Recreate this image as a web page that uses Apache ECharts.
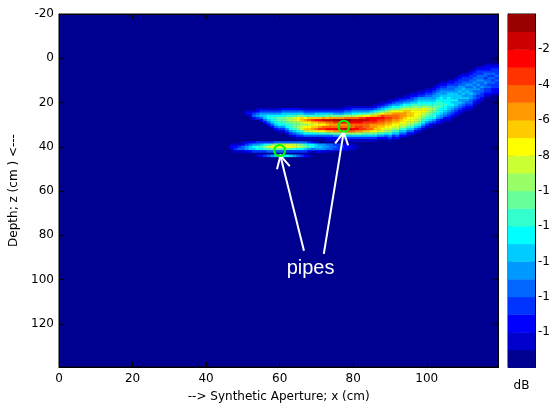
<!DOCTYPE html>
<html><head><meta charset="utf-8">
<script src="https://cdn.jsdelivr.net/npm/echarts@6/dist/echarts.min.js"></script>
<style>html,body{margin:0;padding:0;background:#fff;}#c{width:550px;height:406px;}</style>
</head><body><div id="c"></div>
<script>
// ---- data ----
const dbMin = -20, dbMax = 0;
const bandColors = ['#000090','#0000CC','#0000FF','#0033FF','#0066FF','#0099FF','#00CCFF','#00FFFF','#33FFCC','#66FF99',
                    '#99FF66','#CCFF33','#FFFF00','#FFCC00','#FF9900','#FF6600','#FF3300','#FF0000','#CC0000','#990000'];
const xTicks = [0,20,40,60,80,100];
const yTicks = [-20,0,20,40,60,80,100,120];
const cbTicks = [-18,-16,-14,-12,-10,-8,-6,-4,-2];
const cellW = 1, cellH = 1; // cm per image cell (x, z)
// Each column: centre x, first depth z, one level char per 1 cm downward ('1'..'9','a'..'j' = dB band index)
const mainX = [51,52,53,54,55,56,57,58,59,60,61,62,63,64,65,66,67,68,69,70,71,72,73,74,75,76,77,78,79,80,81,82,83,84,85,
               86,87,88,89,90,91,92,93,94,95,96,97,98,99,100,101,102,103,104,105,106,107,108,109,110,111,112,113,114,115,116,117,118,119];
const mainZ = [24,24,24,23,23,23,23,23,23,23,23,23,23,23,23,23,23,23,23,23,23,23,23,23,23,23,23,22,22,22,22,22,22,22,22,
               21,21,20,20,19,19,18,18,17,17,16,16,15,15,14,14,13,12,11,11,10,10,9,8,7,7,6,5,4,4,3,3,3,3];
const mainLevels = [
  "12","121","1342","12453","135642","1356642","13577642","135787642","1357887642","13579987531",
  "24679987531","2468aa987531","2468ab9887531","2468bba998642","2469cca9a97531","1469ddbabb8631",
  "1358cecacda741","1358dfcbcdb741","1358dgdbdeb741","1368dhdcdfc741","1368dhecegc841","1368eiecfgc841",
  "1369difdfhd8421","1369eifefhd9421","1359ejgefhe9521","1359ejgefie9521","1359ejhefifa631",
  "1246afjhefifa631","1246afjhffifa631","1357afihffhfa631","1357bfihfghea631","1358bgihfggea631",
  "1358cgigffgd9631","1358chigfffd9631","1369dhhgeefc9631",
  "1247adhhgeedc9631","1358behgfeddb852","12469cghgfedcb852","1357adfgfedcba742","12468bdfgfedcba8531",
  "13579ceffedcba8631","124579ceffedcba8642","13468aceeedcba8642","123579bdeedccba8642","124579bdddccba8642",
  "1234689bcddccba8642","124568abcccbba8642","12356789bccbba97531","1235678accba987531","12345678abba987531",
  "123456789ba9876421","1234556789a9887531","123455678898876532","1234556778887765421","123455667787765421",
  "1234456677776654321","12344566676765432","123345566676654321","123345565665654321","123344565656554321",
  "12334545655654321","123344545565544321","12334454554544321","12334454545443321","1233445445443321",
  "122344345443321","122343444343321","12334343433221","12333434333221"
];
const lowerX = [47,48,49,50,51,52,53,54,55,56,57,58,59,60,61,62,63,64,65,66,67,68,69,70,71,72,73,74,75,76,77,78,79,80,81];
const lowerZ = [39,39,39,38,38,38,38,38,38,38,38,38,38,38,38,38,38,38,38,38,38,38,38,38,39,39,39,39,39,39,39,39,39,39,40];
const lowerLevels = ["121","1231","1341","12441","13552","24662","25763","35873","36873","37a83","38b84","39c94","4ac94",
  "4bc94","4bc94","4bc93","4bc83","4bb83","4ab73","49a73","48963","37852","2774","16652","5652","5551","4541","4441",
  "343","333","232","222","121","111","1"];
const streakX = [54,55,56,57,58,59,60,61,62,63,64,65,66,67,68];
const streakZ = [44,44,44,44,44,44,44,44,44,44,44,44,44,44,44];
const streakLevels = ["1","2","3","4","5","6","7","7","7","6","5","4","3","2","1"];

const circleX = [60.0, 77.45];
const circleZ = [41.7, 30.7];
const arrowTailX = [66.6, 72.0];
const arrowTailZ = [87.0, 88.4];
const arrowTipX = [60.2, 77.4];
const arrowTipZ = [44.0, 33.4];
const noteText = ['pipes'];
const noteX = [68.4];
const noteZ = [95.0];

// ---- build ----
const heatData = [];
function addColumns(xs, zs, levels) {
  xs.forEach((x, s) => {
    const str = levels[s];
    for (let i = 0; i < str.length; i++) {
      const lv = parseInt(str[i], 20);
      if (isNaN(lv)) continue;
      heatData.push([x, zs[s] + i, dbMin + lv + 0.5]);
    }
  });
}
addColumns(mainX, mainZ, mainLevels);
addColumns(lowerX, lowerZ, lowerLevels);
addColumns(streakX, streakZ, streakLevels);
const cbData = bandColors.map((c, k) => [0, dbMin + k, dbMin + k + 1, k]);

const FONT = 'DejaVu Sans';
const txt = {color:'#000', fontFamily:FONT, fontSize:12};

function renderCell(params, api) {
  const x = api.value(0), z = api.value(1);
  const p0 = api.coord([x - cellW/2, z - cellH/2]);
  const p1 = api.coord([x + cellW/2, z + cellH/2]);
  return {type:'rect', shape:{x:Math.min(p0[0],p1[0]), y:Math.min(p0[1],p1[1]),
    width:Math.abs(p1[0]-p0[0])+0.4, height:Math.abs(p1[1]-p0[1])+0.4},
    style:{fill: api.visual('color')}};
}
function renderBand(params, api) {
  const p0 = api.coord([0, api.value(1)]);
  const p1 = api.coord([1, api.value(2)]);
  return {type:'rect', shape:{x:Math.min(p0[0],p1[0]), y:Math.min(p0[1],p1[1]),
    width:Math.abs(p1[0]-p0[0]), height:Math.abs(p1[1]-p0[1])+0.4},
    style:{fill: bandColors[api.value(3)]}};
}
function renderCircle(params, api) {
  const p = api.coord([api.value(0), api.value(1)]);
  return {type:'circle', shape:{cx:p[0], cy:p[1], r:5.5}, style:{fill:null, stroke:'#00FF00', lineWidth:2}};
}
function renderArrow(params, api) {
  const t = api.coord([api.value(0), api.value(1)]);
  const h = api.coord([api.value(2), api.value(3)]);
  const ang = Math.atan2(t[1]-h[1], t[0]-h[0]);
  const L = 14, a = 28*Math.PI/180;
  const b1 = [h[0]+L*Math.cos(ang+a), h[1]+L*Math.sin(ang+a)];
  const b2 = [h[0]+L*Math.cos(ang-a), h[1]+L*Math.sin(ang-a)];
  return {type:'group', children:[
    {type:'line', shape:{x1:t[0], y1:t[1], x2:h[0], y2:h[1]}, style:{stroke:'#fff', lineWidth:2}},
    {type:'polyline', shape:{points:[b1, h, b2]}, style:{stroke:'#fff', lineWidth:2, fill:null}}
  ]};
}
function renderNote(params, api) {
  const p = api.coord([api.value(0), api.value(1)]);
  return {type:'text', x:p[0], y:p[1], style:{text: noteText[params.dataIndex], fill:'#fff',
    fontFamily:'Liberation Sans', fontSize:20, align:'center', verticalAlign:'middle'}};
}

const tickFmt = list => v => (list.indexOf(v) >= 0 ? String(v) : '');
const plainAxis = {axisLine:{show:true, onZero:false, lineStyle:{color:'#000', width:1}},
  axisTick:{show:true, inside:true, length:5, lineStyle:{color:'#000'}}, splitLine:{show:false}};

const option = {
  animation:false,
  backgroundColor:'#fff',
  grid:[
    {left:59, top:14, width:439.5, height:353, show:true, backgroundColor:bandColors[0], borderColor:'#000', borderWidth:1,
      outerBoundsMode:'none', containLabel:false},
    {left:508, top:14, width:27, height:353.5, show:true, backgroundColor:'transparent', borderColor:'#000', borderWidth:1,
      outerBoundsMode:'none', containLabel:false}
  ],
  visualMap:{type:'piecewise', show:false, seriesIndex:0, dimension:2,
    pieces: bandColors.map((c,k) => ({gte: dbMin+k, lt: dbMin+k+1, color:c}))},
  xAxis:[
    Object.assign({gridIndex:0, type:'value', min:0, max:119.5, interval:20, position:'bottom',
      axisLabel:Object.assign({margin:6, showMaxLabel:false, formatter:tickFmt(xTicks)}, txt),
      name:'--> Synthetic Aperture; x (cm)', nameLocation:'middle', nameGap:24, nameTextStyle:txt}, plainAxis),
    Object.assign({gridIndex:0, type:'value', min:0, max:119.5, interval:20, position:'top', axisLabel:{show:false}}, plainAxis),
    {gridIndex:1, type:'value', min:0, max:1, axisLine:{show:false}, axisTick:{show:false}, axisLabel:{show:false},
      splitLine:{show:false}, name:'dB', nameLocation:'middle', nameGap:12, nameTextStyle:txt}
  ],
  yAxis:[
    Object.assign({gridIndex:0, type:'value', min:-20, max:139.5, interval:20, inverse:true, position:'left',
      axisLabel:Object.assign({margin:5, showMaxLabel:false, formatter:tickFmt(yTicks)}, txt),
      name:'Depth; z (cm ) <---', nameLocation:'middle', nameGap:37, nameTextStyle:txt}, plainAxis),
    Object.assign({gridIndex:0, type:'value', min:-20, max:139.5, interval:20, inverse:true, position:'right', axisLabel:{show:false}}, plainAxis),
    Object.assign({gridIndex:1, type:'value', min:dbMin, max:dbMax, interval:2, position:'right',
      axisLabel:Object.assign({margin:3, showMinLabel:false, showMaxLabel:false, formatter:tickFmt(cbTicks)}, txt)}, plainAxis),
    Object.assign({gridIndex:1, type:'value', min:dbMin, max:dbMax, interval:2, position:'left', axisLabel:{show:false}}, plainAxis)
  ],
  series:[
    {type:'custom', xAxisIndex:0, yAxisIndex:0, data:heatData, encode:{x:0, y:1}, renderItem:renderCell, clip:true, silent:true, z:1},
    {type:'custom', xAxisIndex:2, yAxisIndex:2, data:cbData, encode:{x:0, y:1}, renderItem:renderBand, silent:true, z:1},
    {type:'custom', xAxisIndex:0, yAxisIndex:0, data:arrowTailX.map((x,i)=>[x, arrowTailZ[i], arrowTipX[i], arrowTipZ[i]]),
      encode:{x:[0,2], y:[1,3]}, renderItem:renderArrow, silent:true, z:3},
    {type:'custom', xAxisIndex:0, yAxisIndex:0, data:circleX.map((x,i)=>[x, circleZ[i]]), encode:{x:0, y:1},
      renderItem:renderCircle, silent:true, z:4},
    {type:'custom', xAxisIndex:0, yAxisIndex:0, data:noteX.map((x,i)=>[x, noteZ[i]]), encode:{x:0, y:1},
      renderItem:renderNote, silent:true, z:4}
  ]
};
const chart = echarts.init(document.getElementById('c'), null, {renderer:'canvas'});
chart.setOption(option);
</script></body></html>
